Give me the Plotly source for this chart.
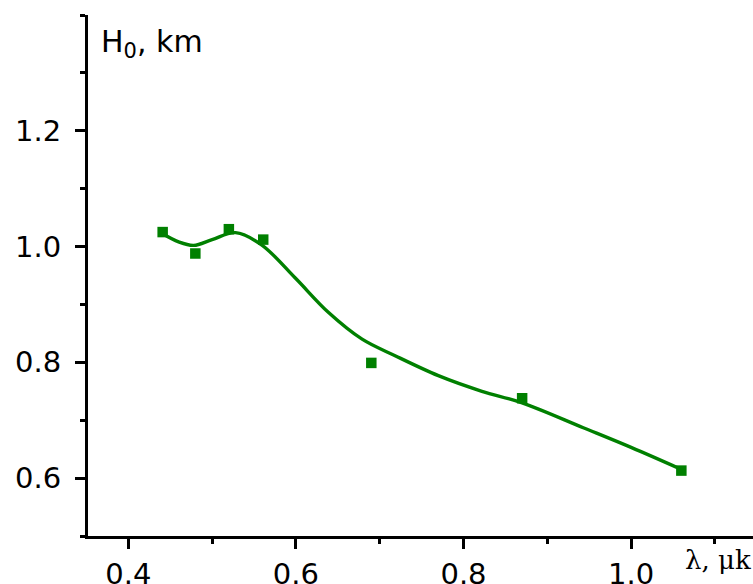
import plotly.graph_objects as go

# measured points
wavelength = [0.441, 0.480, 0.520, 0.561, 0.690, 0.870, 1.060]
height_km = [1.025, 0.988, 1.030, 1.012, 0.799, 0.738, 0.613]

# smooth fitted curve
fit_x = [0.441, 0.460, 0.478, 0.500, 0.528, 0.559, 0.599, 0.639, 0.679,
         0.719, 0.770, 0.822, 0.870, 0.943, 1.000, 1.060]
fit_y = [1.022, 1.008, 1.002, 1.012, 1.024, 1.003, 0.946, 0.886, 0.840,
         0.811, 0.777, 0.750, 0.730, 0.687, 0.653, 0.615]

major_x = [0.4, 0.6, 0.8, 1.0]
major_x_labels = ["0.4", "0.6", "0.8", "1.0"]
major_y = [0.6, 0.8, 1.0, 1.2]
major_y_labels = ["0.6", "0.8", "1.0", "1.2"]

green = "#008000"
font_main = "DejaVu Sans"

fig = go.Figure()
fig.add_trace(go.Scatter(x=fit_x, y=fit_y, mode="lines",
                         line=dict(color=green, width=3.4, shape="spline", smoothing=1.0),
                         hoverinfo="skip", showlegend=False))
fig.add_trace(go.Scatter(x=wavelength, y=height_km, mode="markers",
                         marker=dict(symbol="square", size=10.5, color=green,
                                     line=dict(width=0)),
                         showlegend=False))

axis_common = dict(showgrid=False, zeroline=False, showline=True, linecolor="black",
                   linewidth=3, ticks="outside", ticklen=10, tickwidth=2.5,
                   automargin=False,
                   tickcolor="black", tickfont=dict(family=font_main, size=29, color="black"))

fig.update_xaxes(range=[0.3519, 1.1455], tickvals=major_x, ticktext=major_x_labels,
                 minor=dict(ticks="outside", ticklen=5, tickwidth=2.5, dtick=0.1,
                            tick0=0.0, tickcolor="black"),
                 **axis_common)
fig.update_yaxes(range=[0.5, 1.4], tickvals=major_y, ticktext=major_y_labels,
                 minor=dict(ticks="outside", ticklen=5, tickwidth=2.5, dtick=0.1,
                            tick0=0.0, tickcolor="black"),
                 ticklabelstandoff=8,
                 **axis_common)

fig.add_annotation(xref="paper", yref="paper", x=0.016, y=0.945, xanchor="left",
                   yanchor="middle", showarrow=False,
                   text="H<sub>0</sub>, km",
                   font=dict(family=font_main, size=30, color="black"))
fig.add_annotation(xref="paper", yref="paper", x=1.0, y=-0.046, xanchor="right",
                   yanchor="middle", showarrow=False,
                   text="λ, μk",
                   font=dict(family="DejaVu Serif", size=26, color="black"))

fig.update_layout(width=753, height=584, margin=dict(l=88, r=0, t=15, b=48),
                  plot_bgcolor="white", paper_bgcolor="white")

fig.write_html("out.html")
